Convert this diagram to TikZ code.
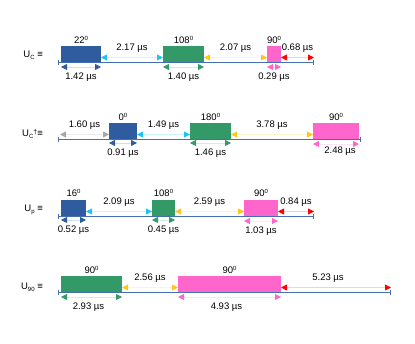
\documentclass[tikz,border=0pt]{standalone}
\usepackage{fontspec}
\setmainfont{Liberation Sans}
\usetikzlibrary{arrows.meta}
\definecolor{pblue}{HTML}{2E5C9E}
\definecolor{pgreen}{HTML}{339966}
\definecolor{ppink}{HTML}{FF66CC}
\definecolor{pcyan}{HTML}{1AC6F0}
\definecolor{pyellow}{HTML}{FFC61A}
\definecolor{pred}{HTML}{FF0000}
\definecolor{pgray}{HTML}{A6A6A6}
\definecolor{axisblue}{HTML}{4470B0}
\newcommand{\dg}[1]{#1\raisebox{3.5pt}{\fontsize{6}{6}\selectfont 0}}
\newcommand{\sub}[1]{\raisebox{-2pt}{\fontsize{6}{6}\selectfont #1}}
\tikzset{
  pulse/.style={fill=#1, inner sep=0pt, outer sep=0pt, minimum height=16pt},
  axis/.style={draw=axisblue, line width=1pt, {Bar[width=5pt,line width=.8pt]}-{Bar[width=5pt,line width=.8pt]}},
  span/.style={draw=#1!20, line width=.8pt, {Triangle[length=6pt,width=6pt,color=#1]}-{Triangle[length=6pt,width=6pt,color=#1]}},
  rowlbl/.style={anchor=east, inner sep=0pt},
  up/.style={midway, yshift=9.5pt},
  down/.style={midway, yshift=-10pt},
}
\begin{document}
\begin{tikzpicture}[x=1pt,y=1pt,font=\fontsize{9.5}{11}\selectfont]
    \useasboundingbox (0,0) rectangle (415,-343);
    % U_C
    \begin{scope}[yshift=-62pt]
        \node[rowlbl] (uc) at (43,7) {U\sub{C} ≡};
        \node[pulse=pblue, minimum width=40pt] (c1) at (81,8) {};
        \node[pulse=pgreen, minimum width=41pt] (c2) at (183.5,8) {};
        \node[pulse=ppink, minimum width=14pt] (c3) at (274,8) {};
        \draw[axis] (58,0) -- (314,0);
        \coordinate (ce) at (314,4.5);
        \node (c1a) at ([yshift=6pt]c1.north) {\dg{22}};
        \node (c2a) at ([yshift=6pt]c2.north) {\dg{108}};
        \node (c3a) at ([yshift=6pt]c3.north) {\dg{90}};
        \draw[span=pcyan] ([yshift=-3.5pt]c1.east) -- ([yshift=-3.5pt]c2.west) node[up] (c12) {2.17 µs};
        \draw[span=pyellow] ([yshift=-3.5pt]c2.east) -- ([yshift=-3.5pt]c3.west) node[up] (c23) {2.07 µs};
        \draw[span=pred] ([yshift=-3.5pt]c3.east) -- (ce) node[up] (c3e) {0.68 µs};
        \draw[span=pblue] ([yshift=-13pt]c1.west) -- ([yshift=-13pt]c1.east) node[down] (c1d) {1.42 µs};
        \draw[span=pgreen] ([yshift=-13pt]c2.west) -- ([yshift=-13pt]c2.east) node[down] (c2d) {1.40 µs};
        \draw[span=ppink] ([yshift=-13pt]c3.west) -- ([yshift=-13pt]c3.east) node[down] (c3d) {0.29 µs};
    \end{scope}
    % U_C dagger
    \begin{scope}[yshift=-139pt]
        \node[rowlbl] (ud) at (43,5) {U\sub{C}\raisebox{2pt}{\fontsize{7}{7}\selectfont †}≡};
        \node[pulse=pblue, minimum width=28pt] (d1) at (123,8) {};
        \node[pulse=pgreen, minimum width=41pt] (d2) at (210.5,8) {};
        \node[pulse=ppink, minimum width=46pt] (d3) at (336,8) {};
        \draw[axis] (58,0) -- (361,0);
        \coordinate (ds) at (60,4.5);
        \node (d1a) at ([yshift=6pt]d1.north) {\dg{0}};
        \node (d2a) at ([yshift=6pt]d2.north) {\dg{180}};
        \node (d3a) at ([yshift=6pt]d3.north) {\dg{90}};
        \draw[span=pgray] (ds) -- ([yshift=-3.5pt]d1.west) node[up] (ds1) {1.60 µs};
        \draw[span=pcyan] ([yshift=-3.5pt]d1.east) -- ([yshift=-3.5pt]d2.west) node[up] (d12) {1.49 µs};
        \draw[span=pyellow] ([yshift=-3.5pt]d2.east) -- ([yshift=-3.5pt]d3.west) node[up] (d23) {3.78 µs};
        \draw[span=pblue] ([yshift=-12pt]d1.west) -- ([yshift=-12pt]d1.east) node[down] (d1d) {0.91 µs};
        \draw[span=pgreen] ([yshift=-12pt]d2.west) -- ([yshift=-12pt]d2.east) node[down] (d2d) {1.46 µs};
        \draw[span=ppink] ([yshift=-13pt]d3.west) -- ([yshift=-13pt]d3.east) node[midway,yshift=-7pt,xshift=4pt] (d3d) {2.48 µs};
    \end{scope}
    % U_p
    \begin{scope}[yshift=-216pt]
        \node[rowlbl] (up) at (43,6) {U\sub{p} ≡};
        \node[pulse=pblue, minimum width=25pt] (p1) at (73.5,8) {};
        \node[pulse=pgreen, minimum width=23pt] (p2) at (163.5,8) {};
        \node[pulse=ppink, minimum width=34pt] (p3) at (261,8) {};
        \draw[axis] (58,0) -- (314,0);
        \coordinate (pe) at (314,4.5);
        \node (p1a) at ([yshift=7pt]p1.north) {\dg{16}};
        \node (p2a) at ([yshift=7pt]p2.north) {\dg{108}};
        \node (p3a) at ([yshift=7pt]p3.north) {\dg{90}};
        \draw[span=pcyan] ([yshift=-3.5pt]p1.east) -- ([yshift=-3.5pt]p2.west) node[up] (p12) {2.09 µs};
        \draw[span=pyellow] ([yshift=-3.5pt]p2.east) -- ([yshift=-3.5pt]p3.west) node[up] (p23) {2.59 µs};
        \draw[span=pred] ([yshift=-3.5pt]p3.east) -- (pe) node[up] (p3e) {0.84 µs};
        \draw[span=pblue] ([yshift=-12pt]p1.west) -- ([yshift=-12pt]p1.east) node[down] (p1d) {0.52 µs};
        \draw[span=pgreen] ([yshift=-12pt]p2.west) -- ([yshift=-12pt]p2.east) node[down] (p2d) {0.45 µs};
        \draw[span=ppink] ([yshift=-13pt]p3.west) -- ([yshift=-13pt]p3.east) node[down] (p3d) {1.03 µs};
    \end{scope}
    % U_90
    \begin{scope}[yshift=-292pt]
        \node[rowlbl] (un) at (43,5) {U\sub{90} ≡};
        \node[pulse=pgreen, minimum width=61pt] (n1) at (91.5,8) {};
        \node[pulse=ppink, minimum width=103pt] (n2) at (229.5,8) {};
        \draw[axis] (58,0) -- (391,0);
        \coordinate (ne) at (391,4.5);
        \node (n1a) at ([yshift=6pt]n1.north) {\dg{90}};
        \node (n2a) at ([yshift=6pt]n2.north) {\dg{90}};
        \draw[span=pyellow] ([yshift=-3.5pt]n1.east) -- ([yshift=-3.5pt]n2.west) node[up] (n12) {2.56 µs};
        \draw[span=pred] ([yshift=-3.5pt]n2.east) -- (ne) node[up,xshift=-8pt] (n2e) {5.23 µs};
        \draw[span=pgreen] ([yshift=-13pt]n1.west) -- ([yshift=-13pt]n1.east) node[down,xshift=-3pt] (n1d) {2.93 µs};
        \draw[span=ppink] ([yshift=-13pt]n2.west) -- ([yshift=-13pt]n2.east) node[down,xshift=-3pt] (n2d) {4.93 µs};
    \end{scope}
\end{tikzpicture}
\end{document}
